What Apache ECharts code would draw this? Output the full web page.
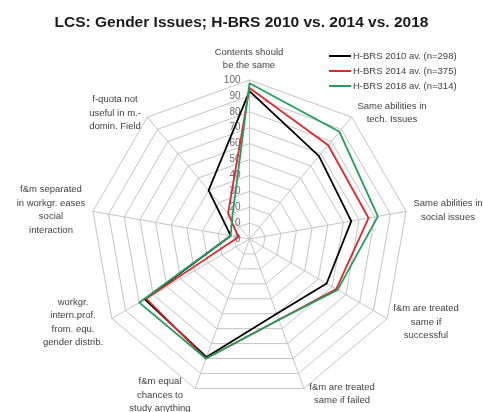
<!DOCTYPE html>
<html>
<head>
<meta charset="utf-8">
<script src="https://cdn.jsdelivr.net/npm/echarts@6/dist/echarts.min.js"></script>
<style>html,body{margin:0;padding:0;background:#fff;}#c{width:483px;height:412px;}</style>
</head>
<body>
<div id="c"></div>
<script>
// ---- data (clockwise from top) ----
var categories = [
  "Contents should\nbe the same",
  "Same abilities in\ntech. Issues",
  "Same abilities in\nsocial issues",
  "f&m are treated\nsame if\nsuccessful",
  "f&m are treated\nsame if failed",
  "f&m equal\nchances to\nstudy anything",
  "workgr.\nintern.prof.\nfrom. equ.\ngender distrib.",
  "f&m separated\nin workgr. eases\nsocial\ninteraction",
  "f-quota not\nuseful in m.-\ndomin. Field"
];
var seriesNames = ["H-BRS 2010 av. (n=298)", "H-BRS 2014 av. (n=375)", "H-BRS 2018 av. (n=314)"];
var v2010 = [93, 68, 65, 56, 50, 79, 76, 12, 40];
var v2014 = [95, 77, 76, 63, 54, 80, 75, 7, 21];
var v2018 = [98, 88, 82, 64, 54, 80, 80, 12, 17];
var axisMax = 100;
var tickStep = 10;

// ---- layout (not data) ----
var cx = 249.5, cy = 239, R = 159;
var labelPos = [[249,59],[392,113],[448,210.5],[426,322],[342,394],[160,395],[73,322.5],[51,210],[115,113]];
var colors = ['#000000', '#e3262b', '#1f9e5c'];
var labelFont = '9.5px "Liberation Sans", Arial, sans-serif';

// ECharts radar runs counter-clockwise; reorder so the axes run clockwise
var order = [0];
for (var k = categories.length - 1; k >= 1; k--) order.push(k);
function reorder(arr) { return order.map(function (i) { return arr[i]; }); }

var chart = echarts.init(document.getElementById('c'), null, {renderer: 'canvas'});

var graphics = categories.map(function (name, i) {
  return {
    type: 'text',
    style: {
      text: name,
      x: labelPos[i][0],
      y: labelPos[i][1],
      textAlign: 'center',
      textVerticalAlign: 'middle',
      font: labelFont,
      lineHeight: 13.5,
      fill: '#3f3f3f'
    }
  };
});

var option = {
  backgroundColor: '#fff',
  animation: false,
  title: {
    text: 'LCS: Gender Issues; H-BRS 2010 vs. 2014 vs. 2018',
    left: 'center',
    top: 10,
    textStyle: {fontFamily: '"Liberation Sans", Arial, sans-serif', fontSize: 15.5, fontWeight: 'bold', color: '#1a1a1a'}
  },
  legend: {
    orient: 'vertical',
    left: 324,
    top: 46,
    itemWidth: 22,
    itemHeight: 2,
    itemGap: 5,
    icon: 'rect',
    data: seriesNames,
    textStyle: {fontFamily: '"Liberation Sans", Arial, sans-serif', fontSize: 9.5, color: '#3f3f3f', padding: [0,0,0,-3]}
  },
  color: colors,
  grid: {left: cx, top: cy - R, width: 1, height: R},
  xAxis: {type: 'value', show: false},
  yAxis: {
    type: 'value', min: 0, max: axisMax, interval: tickStep,
    axisLine: {show: false}, axisTick: {show: false}, splitLine: {show: false},
    axisLabel: {margin: 9, fontSize: 10, color: '#6a6a6a', fontFamily: '"Liberation Sans", Arial, sans-serif'}
  },
  radar: {
    center: [cx, cy],
    radius: R,
    startAngle: 90,
    shape: 'polygon',
    splitNumber: axisMax / tickStep,
    indicator: reorder(categories).map(function (n) { return {name: n, min: 0, max: axisMax}; }),
    axisName: {show: false},
    axisLine: {lineStyle: {color: '#c4c4c4', width: 1}},
    splitLine: {lineStyle: {color: '#c4c4c4', width: 1}},
    splitArea: {show: false}
  },
  graphic: graphics,
  series: [{
    type: 'radar',
    symbol: 'none',
    data: [
      {name: seriesNames[0], value: reorder(v2010), lineStyle: {color: colors[0], width: 1.8}},
      {name: seriesNames[1], value: reorder(v2014), lineStyle: {color: colors[1], width: 1.8}},
      {name: seriesNames[2], value: reorder(v2018), lineStyle: {color: colors[2], width: 1.8}}
    ]
  }]
};
chart.setOption(option);
</script>
</body>
</html>
